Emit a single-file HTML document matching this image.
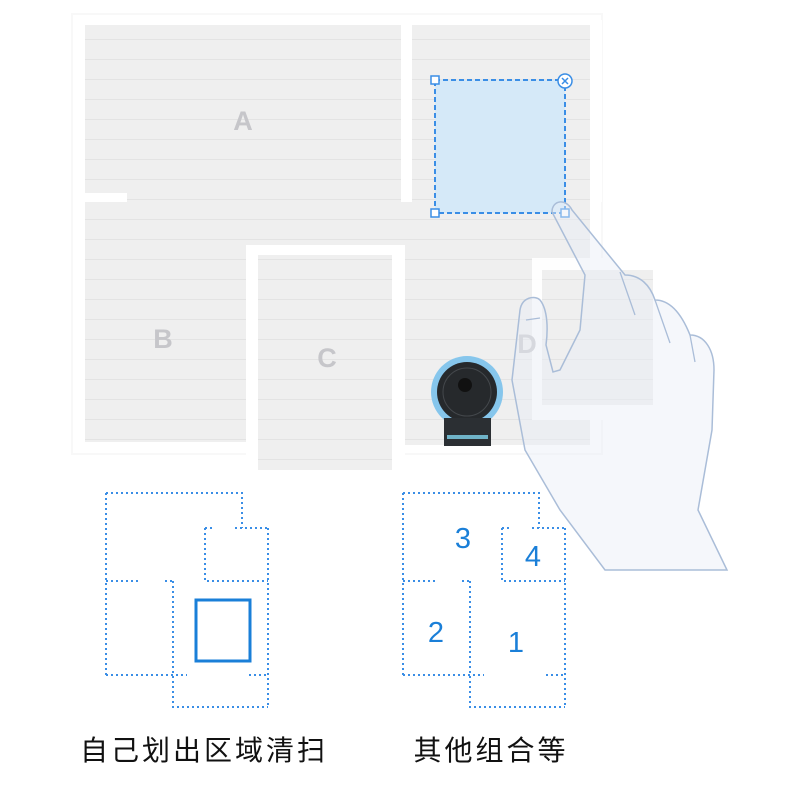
<!DOCTYPE html>
<html><head><meta charset="utf-8"><style>
html,body{margin:0;padding:0;background:#fff;}
svg{display:block;}
</style></head><body>
<svg width="790" height="797" viewBox="0 0 790 797" xmlns="http://www.w3.org/2000/svg">
<defs>
<pattern id="st" width="10" height="20" patternUnits="userSpaceOnUse">
<rect width="10" height="20" fill="#efefef"/><rect y="19" width="10" height="1" fill="#e3e3e3"/>
</pattern>
</defs>
<rect x="72" y="14" width="530" height="440" fill="none" stroke="#f8f8f8" stroke-width="2"/>
<rect x="85" y="25" width="505" height="220" fill="url(#st)"/>
<rect x="85" y="245" width="161" height="197" fill="url(#st)"/>
<rect x="258" y="255" width="134" height="215" fill="url(#st)"/>
<rect x="405" y="245" width="185" height="200" fill="url(#st)"/>
<rect x="401" y="20" width="11" height="182" fill="#fff"/>
<rect x="85" y="193" width="42" height="9" fill="#fff"/>
<rect x="246" y="245" width="12" height="225" fill="#fff"/>
<rect x="308" y="245" width="97" height="10" fill="#fff"/>
<rect x="392" y="245" width="13" height="210" fill="#fff"/>
<rect x="590" y="20" width="12" height="182" fill="#fff"/>
<rect x="532" y="258" width="133" height="162" fill="#fff" opacity="0.9"/>
<rect x="542" y="270" width="111" height="135" fill="url(#st)"/>
<g font-family="Liberation Sans, sans-serif" font-weight="bold" font-size="27" fill="#c6c6ca" text-anchor="middle">
<text x="243" y="130">A</text><text x="163" y="348">B</text><text x="327" y="367">C</text><text x="527" y="353">D</text>
</g>
<rect x="435" y="80" width="130" height="133" fill="#d5e9f8" stroke="#3a8ee6" stroke-width="2" stroke-dasharray="5 3"/>
<rect x="431" y="76" width="8" height="8" fill="#fff" stroke="#3a8ee6" stroke-width="1.5"/>
<rect x="431" y="209" width="8" height="8" fill="#fff" stroke="#3a8ee6" stroke-width="1.5"/>
<rect x="561" y="209" width="8" height="8" fill="#fff" stroke="#3a8ee6" stroke-width="1.5"/>
<circle cx="565" cy="81" r="7" fill="#fff" stroke="#3a8ee6" stroke-width="1.5"/>
<path d="M562,78 L568,84 M568,78 L562,84" stroke="#3a8ee6" stroke-width="1.5"/>
<circle cx="467" cy="392" r="36" fill="#86c6ec"/>
<circle cx="467" cy="392" r="30" fill="#26292c"/>
<circle cx="467" cy="392" r="24" fill="none" stroke="#44484c" stroke-width="1"/>
<circle cx="465" cy="385" r="7" fill="#111"/>
<rect x="444" y="418" width="47" height="28" fill="#2b2f33"/>
<rect x="447" y="435" width="41" height="4" fill="#6fb3c8"/>
<path d="M552,212 C552,200 566,198 572,210 L625,275 C640,275 650,285 655,300 C668,300 680,310 690,335 C705,335 714,350 714,370 L712,430 L698,510 L727,570 L605,570 L560,510 L525,450 L512,380 L520,310 C522,297 535,295 540,300 C548,310 548,330 546,345 L553,372 L560,370 L580,330 L585,275 Z" fill="#e8eef7" fill-opacity="0.45" stroke="#aabdd8" stroke-width="1.5"/>
<path d="M620,272 L635,315 M655,300 L670,343 M690,335 L695,362 M526,320 L540,318" fill="none" stroke="#aabdd8" stroke-width="1.3"/>
<g id="plan" fill="none" stroke="#3a8ee6" stroke-width="2" stroke-dasharray="2 3">
<path d="M106,493 L242,493 L242,528"/>
<path d="M205,528 L215,528 M235,528 L268,528"/>
<path d="M106,493 L106,675"/>
<path d="M205,528 L205,581 L268,581"/>
<path d="M268,528 L268,707"/>
<path d="M106,581 L140,581 M165,581 L173,581"/>
<path d="M173,581 L173,707 L268,707"/>
<path d="M106,675 L187,675 M249,675 L268,675"/>
</g>
<use href="#plan" transform="translate(297,0)"/>
<rect x="196" y="600" width="54" height="61" fill="none" stroke="#1a7fd8" stroke-width="3"/>
<g font-family="Liberation Sans, sans-serif" font-size="29" fill="#1a7fd8" text-anchor="middle">
<text x="463" y="548">3</text><text x="533" y="566">4</text><text x="436" y="642">2</text><text x="516" y="652">1</text>
</g>
<g font-family="Liberation Sans, 'Noto Sans CJK SC', sans-serif" font-size="28" fill="#111" text-anchor="middle" letter-spacing="3">
<text x="204" y="760">自己划出区域清扫</text>
<text x="491" y="760">其他组合等</text>
</g>
</svg>
</body></html>
